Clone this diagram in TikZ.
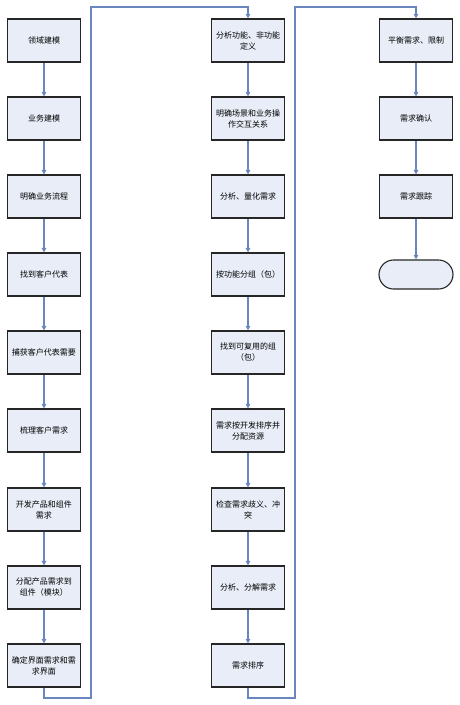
\documentclass[tikz,border=0pt]{standalone}
\usepackage{fontspec}
\newfontfamily\cjk{Noto Sans CJK SC}
\usepackage{tikz}
\usetikzlibrary{arrows.meta}

\definecolor{boxfill}{RGB}{232,237,247}
\definecolor{linkblue}{RGB}{105,134,190}

\begin{document}
\begin{tikzpicture}[x=1pt, y=-1pt, >={Triangle[length=4.5pt,width=4.5pt]},
    every node/.style={font=\cjk\fontsize{8}{11}\selectfont, align=center},
    stepbox/.style={draw=black!85, line width=1.1pt, fill=boxfill, minimum width=73pt, minimum height=43pt, inner sep=1pt},
    endbox/.style={draw=black!85, line width=1.1pt, fill=boxfill, minimum width=74pt, minimum height=29pt, rounded corners=14.5pt},
    link/.style={draw=linkblue, line width=1.3pt}]
                \useasboundingbox (0,0) rectangle (460,705);

                % Primera columna
                \node[stepbox] (a1) at (44,40.5) {领域建模};
                \node[stepbox] (a2) at (44,118.5) {业务建模};
                \node[stepbox] (a3) at (44,196.5) {明确业务流程};
                \node[stepbox] (a4) at (44,274.5) {找到客户代表};
                \node[stepbox] (a5) at (44,352.5) {捕获客户代表需要};
                \node[stepbox] (a6) at (44,430.5) {梳理客户需求};
                \node[stepbox] (a7) at (44,509.5) {开发产品和组件\\需求};
                \node[stepbox] (a8) at (44,587.5) {分配产品需求到\\组件（模块）};
                \node[stepbox] (a9) at (44,665.5) {确定界面需求和需\\求界面};

                % Segunda columna
                \node[stepbox] (b1) at (248,40.5) {分析功能、非功能\\定义};
                \node[stepbox] (b2) at (248,118.5) {明确场景和业务操\\作交互关系};
                \node[stepbox] (b3) at (248,196.5) {分析、量化需求};
                \node[stepbox] (b4) at (248,274.5) {按功能分组（包）};
                \node[stepbox] (b5) at (248,352.5) {找到可复用的组\\（包）};
                \node[stepbox] (b6) at (248,430.5) {需求按开发排序并\\分配资源};
                \node[stepbox] (b7) at (248,509.5) {检查需求歧义、冲\\突};
                \node[stepbox] (b8) at (248,587.5) {分析、分解需求};
                \node[stepbox] (b9) at (248,665.5) {需求排序};

                % Tercera columna
                \node[stepbox] (c1) at (416,40.5) {平衡需求、限制};
                \node[stepbox] (c2) at (416,118.5) {需求确认};
                \node[stepbox] (c3) at (416,196.5) {需求跟踪};
                \node[endbox] (fin) at (416,274.5) {};

                % Flechas verticales
                \draw[link, ->] (a1) -- (a2);
                \draw[link, ->] (a2) -- (a3);
                \draw[link, ->] (a3) -- (a4);
                \draw[link, ->] (a4) -- (a5);
                \draw[link, ->] (a5) -- (a6);
                \draw[link, ->] (a6) -- (a7);
                \draw[link, ->] (a7) -- (a8);
                \draw[link, ->] (a8) -- (a9);
                \draw[link, ->] (b1) -- (b2);
                \draw[link, ->] (b2) -- (b3);
                \draw[link, ->] (b3) -- (b4);
                \draw[link, ->] (b4) -- (b5);
                \draw[link, ->] (b5) -- (b6);
                \draw[link, ->] (b6) -- (b7);
                \draw[link, ->] (b7) -- (b8);
                \draw[link, ->] (b8) -- (b9);
                \draw[link, ->] (c1) -- (c2);
                \draw[link, ->] (c2) -- (c3);
                \draw[link, ->] (c3) -- (fin);

                % Retornos entre columnas
                \coordinate (ra) at (91,698);
                \coordinate (rb) at (91,7);
                \coordinate (sa) at (295,698);
                \coordinate (sb) at (295,7);
                \draw[link, ->] (a9.south) |- (ra) -- (rb) -| (b1.north);
                \draw[link, ->] (b9.south) |- (sa) -- (sb) -| (c1.north);
            \end{tikzpicture}
\end{document}
